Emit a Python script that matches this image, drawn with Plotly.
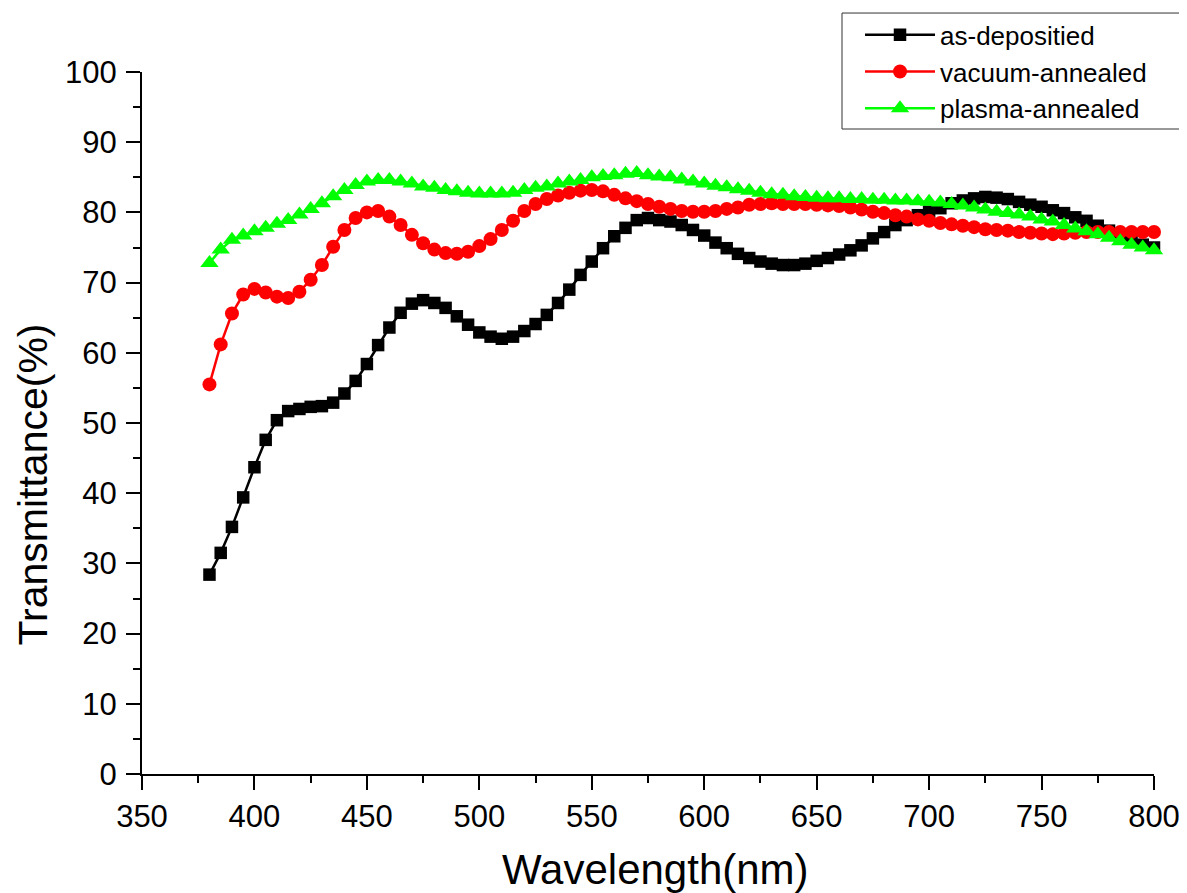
import plotly.graph_objects as go

wavelength = list(range(380, 805, 5))

as_deposited = [
    28.4, 31.5, 35.2, 39.4, 43.7, 47.6, 50.4, 51.7, 52.0, 52.3,
    52.4, 52.9, 54.2, 56.0, 58.4, 61.1, 63.6, 65.7, 67.0, 67.5,
    67.1, 66.4, 65.2, 64.0, 62.9, 62.3, 62.0, 62.3, 63.1, 64.1,
    65.4, 67.1, 69.0, 71.1, 73.0, 74.9, 76.6, 77.8, 78.9, 79.2,
    78.9, 78.7, 78.2, 77.5, 76.7, 75.7, 74.9, 74.1, 73.5, 73.0,
    72.7, 72.5, 72.5, 72.7, 73.1, 73.5, 74.0, 74.6, 75.3, 76.3,
    77.2, 78.2, 78.9, 79.6, 80.1, 80.6, 81.3, 81.7, 82.0, 82.2,
    82.1, 81.9, 81.5, 81.1, 80.8, 80.3, 79.9, 79.3, 78.8, 78.1,
    77.4, 76.7, 76.0, 75.4, 75.0,
]

vacuum_annealed = [
    55.5, 61.2, 65.6, 68.3, 69.1, 68.6, 68.0, 67.8, 68.7, 70.4,
    72.5, 75.1, 77.5, 79.2, 80.0, 80.2, 79.4, 78.2, 76.8, 75.6,
    74.7, 74.2, 74.1, 74.4, 75.2, 76.2, 77.5, 78.8, 80.2, 81.2,
    81.9, 82.4, 82.8, 83.1, 83.2, 83.0, 82.5, 82.0, 81.6, 81.2,
    80.8, 80.5, 80.2, 80.1, 80.1, 80.2, 80.5, 80.7, 81.1, 81.2,
    81.3, 81.2, 81.2, 81.2, 81.1, 81.0, 80.9, 80.7, 80.4, 80.1,
    79.9, 79.6, 79.4, 79.0, 78.8, 78.5, 78.3, 78.1, 77.9, 77.6,
    77.5, 77.4, 77.2, 77.1, 77.0, 76.9, 77.0, 77.1, 77.2, 77.2,
    77.2, 77.2, 77.2, 77.2, 77.2,
]

plasma_annealed = [
    72.8, 74.7, 76.1, 76.7, 77.3, 77.8, 78.4, 78.9, 79.7, 80.5,
    81.3, 82.3, 83.2, 83.9, 84.4, 84.6, 84.6, 84.4, 84.1, 83.7,
    83.5, 83.2, 83.0, 82.8, 82.7, 82.7, 82.7, 82.8, 83.2, 83.5,
    83.7, 84.1, 84.4, 84.6, 85.0, 85.2, 85.3, 85.5, 85.6, 85.3,
    85.1, 85.0, 84.7, 84.4, 84.1, 83.8, 83.6, 83.3, 83.1, 82.8,
    82.6, 82.5, 82.3, 82.2, 82.1, 82.0, 82.0, 81.9, 81.9, 81.8,
    81.8, 81.7, 81.7, 81.6, 81.5, 81.4, 81.2, 81.0, 80.7, 80.4,
    80.1, 79.9, 79.7, 79.4, 79.0, 78.7, 78.2, 77.7, 77.3, 76.9,
    76.4, 75.9, 75.4, 75.0, 74.6,
]

series_names = ["as-depositied", "vacuum-annealed", "plasma-annealed"]
series_values = [as_deposited, vacuum_annealed, plasma_annealed]
series_colors = ["#000000", "#ff0000", "#00ff00"]
series_symbols = ["square", "circle", "triangle-up"]
series_sizes = [12.5, 14, 16]

x_ticks = [350, 400, 450, 500, 550, 600, 650, 700, 750, 800]
y_ticks = [0, 10, 20, 30, 40, 50, 60, 70, 80, 90, 100]

FONT = "Arial, 'Liberation Sans', sans-serif"

fig = go.Figure()
for name, vals, col, sym, sz in zip(series_names, series_values, series_colors,
                                    series_symbols, series_sizes):
    fig.add_trace(go.Scatter(
        x=wavelength, y=vals, name=name, mode="lines+markers",
        line=dict(color=col, width=2.5),
        marker=dict(color=col, symbol=sym, size=sz, line=dict(width=0)),
        cliponaxis=False,
    ))

axis_common = dict(
    showline=True, linecolor="black", linewidth=2,
    ticks="outside", ticklen=14, tickwidth=2, tickcolor="black",
    showgrid=False, zeroline=False, mirror=False, automargin=False,
    tickfont=dict(family=FONT, size=31, color="black"),
)

fig.update_xaxes(
    range=[350, 800], tickvals=x_ticks, ticklabelstandoff=0,
    minor=dict(dtick=25, tick0=350, ticks="outside", ticklen=7, tickwidth=2,
               tickcolor="black", showgrid=False),
    **axis_common,
)
fig.update_yaxes(
    range=[0, 100], tickvals=y_ticks, ticklabelstandoff=3,
    minor=dict(dtick=5, tick0=0, ticks="outside", ticklen=7, tickwidth=2,
               tickcolor="black", showgrid=False),
    **axis_common,
)

fig.add_annotation(
    text="Wavelength(nm)", xref="paper", yref="paper",
    x=0.507, y=-0.1365, xanchor="center", yanchor="middle", showarrow=False,
    font=dict(family=FONT, size=42, color="black"),
)
fig.add_annotation(
    text="Transmittance(%)", xref="paper", yref="paper",
    x=-0.1082, y=0.4117, xanchor="center", yanchor="middle", showarrow=False,
    textangle=-90,
    font=dict(family=FONT, size=41, color="black"),
)

# legend frame
fig.add_shape(
    type="rect", xref="paper", yref="paper",
    x0=0.6917, x1=1.0316, y0=0.9188, y1=1.0840,
    line=dict(color="#333333", width=1), fillcolor="white", layer="below",
)

fig.update_layout(
    width=1179, height=885,
    margin=dict(l=134, r=33, t=64, b=119, autoexpand=False),
    paper_bgcolor="white", plot_bgcolor="white",
    font=dict(family=FONT, color="black"),
    legend=dict(
        x=0.7095, y=1.0865, xanchor="left", yanchor="top",
        bgcolor="rgba(0,0,0,0)", borderwidth=0,
        font=dict(family=FONT, size=26, color="black"),
        itemwidth=70, tracegroupgap=0,
    ),
    showlegend=True,
)

fig.write_html("out.html")
